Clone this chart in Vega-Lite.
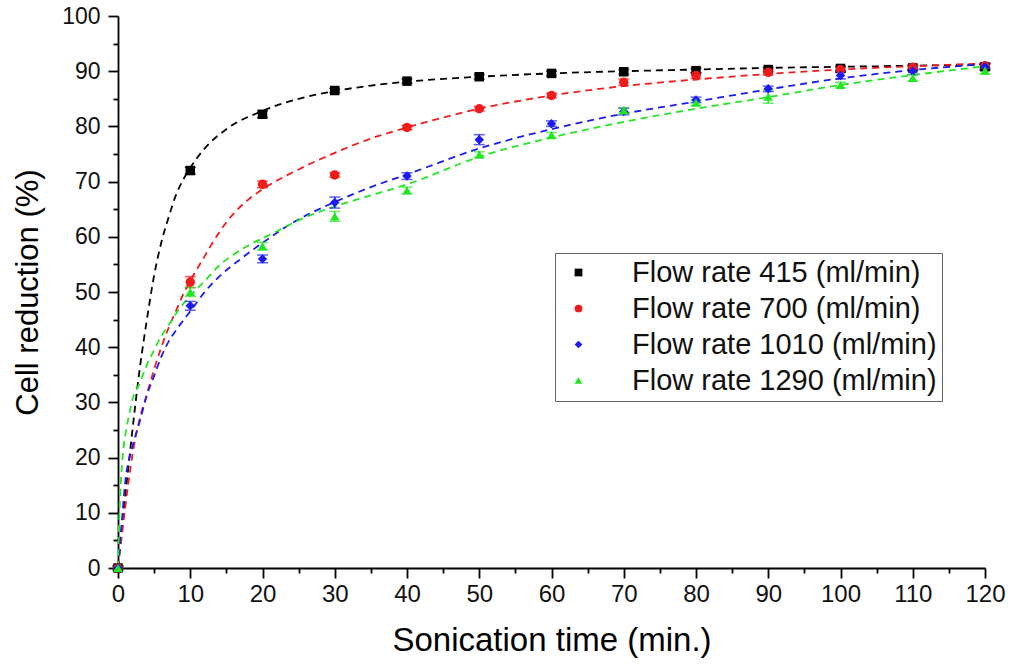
{
  "$schema": "https://vega.github.io/schema/vega-lite/v6.json",
  "width": 867,
  "height": 552,
  "autosize": "none",
  "padding": {"left": 118, "top": 16, "right": 24, "bottom": 96},
  "background": "white",
  "config": {
    "view": {"stroke": null},
    "font": "Liberation Sans",
    "axis": {
      "grid": false,
      "domainColor": "#000000",
      "domainWidth": 1.8,
      "tickColor": "#000000",
      "tickWidth": 1.8,
      "labelColor": "#111111",
      "labelFont": "Liberation Sans",
      "titleFont": "Liberation Sans",
      "titleFontWeight": "normal",
      "titleColor": "#000000"
    },
    "legend": {
      "labelFont": "Liberation Sans",
      "labelColor": "#111111",
      "orient": "none",
      "legendX": 437,
      "legendY": 237,
      "labelFontSize": 29,
      "symbolSize": 60,
      "symbolOpacity": 1,
      "rowPadding": 6,
      "padding": 5,
      "symbolOffset": 4,
      "labelOffset": 39,
      "strokeColor": "#666666",
      "labelLimit": 600,
      "symbolStrokeWidth": 0
    }
  },
  "datasets": {
    "pts": [
      {"s": "Flow rate 415 (ml/min)", "x": 0, "y": 0, "e": 0.3},
      {"s": "Flow rate 415 (ml/min)", "x": 10, "y": 72.0, "e": 0.6},
      {"s": "Flow rate 415 (ml/min)", "x": 20, "y": 82.2, "e": 0.6},
      {"s": "Flow rate 415 (ml/min)", "x": 30, "y": 86.5, "e": 0.4},
      {"s": "Flow rate 415 (ml/min)", "x": 40, "y": 88.2, "e": 0.4},
      {"s": "Flow rate 415 (ml/min)", "x": 50, "y": 89.0, "e": 0.4},
      {"s": "Flow rate 415 (ml/min)", "x": 60, "y": 89.6, "e": 0.4},
      {"s": "Flow rate 415 (ml/min)", "x": 70, "y": 89.9, "e": 0.4},
      {"s": "Flow rate 415 (ml/min)", "x": 80, "y": 90.1, "e": 0.4},
      {"s": "Flow rate 415 (ml/min)", "x": 90, "y": 90.3, "e": 0.4},
      {"s": "Flow rate 415 (ml/min)", "x": 100, "y": 90.5, "e": 0.4},
      {"s": "Flow rate 415 (ml/min)", "x": 110, "y": 90.6, "e": 0.4},
      {"s": "Flow rate 415 (ml/min)", "x": 120, "y": 90.8, "e": 0.5},
      {"s": "Flow rate 700 (ml/min)", "x": 0, "y": 0, "e": 0.3},
      {"s": "Flow rate 700 (ml/min)", "x": 10, "y": 51.8, "e": 1.0},
      {"s": "Flow rate 700 (ml/min)", "x": 20, "y": 69.5, "e": 0.6},
      {"s": "Flow rate 700 (ml/min)", "x": 30, "y": 71.2, "e": 0.4},
      {"s": "Flow rate 700 (ml/min)", "x": 40, "y": 79.8, "e": 0.4},
      {"s": "Flow rate 700 (ml/min)", "x": 50, "y": 83.2, "e": 0.4},
      {"s": "Flow rate 700 (ml/min)", "x": 60, "y": 85.6, "e": 0.4},
      {"s": "Flow rate 700 (ml/min)", "x": 70, "y": 88.0, "e": 0.6},
      {"s": "Flow rate 700 (ml/min)", "x": 80, "y": 89.2, "e": 0.5},
      {"s": "Flow rate 700 (ml/min)", "x": 90, "y": 89.8, "e": 0.5},
      {"s": "Flow rate 700 (ml/min)", "x": 100, "y": 90.3, "e": 0.4},
      {"s": "Flow rate 700 (ml/min)", "x": 110, "y": 90.7, "e": 0.4},
      {"s": "Flow rate 700 (ml/min)", "x": 120, "y": 91.0, "e": 0.4},
      {"s": "Flow rate 1010 (ml/min)", "x": 0, "y": 0, "e": 0.3},
      {"s": "Flow rate 1010 (ml/min)", "x": 10, "y": 47.5, "e": 0.8},
      {"s": "Flow rate 1010 (ml/min)", "x": 20, "y": 56.0, "e": 0.7},
      {"s": "Flow rate 1010 (ml/min)", "x": 30, "y": 66.2, "e": 1.0},
      {"s": "Flow rate 1010 (ml/min)", "x": 40, "y": 71.0, "e": 0.6},
      {"s": "Flow rate 1010 (ml/min)", "x": 50, "y": 77.6, "e": 0.9},
      {"s": "Flow rate 1010 (ml/min)", "x": 60, "y": 80.5, "e": 0.5},
      {"s": "Flow rate 1010 (ml/min)", "x": 70, "y": 82.7, "e": 0.6},
      {"s": "Flow rate 1010 (ml/min)", "x": 80, "y": 84.8, "e": 0.5},
      {"s": "Flow rate 1010 (ml/min)", "x": 90, "y": 86.8, "e": 0.5},
      {"s": "Flow rate 1010 (ml/min)", "x": 100, "y": 89.2, "e": 0.6},
      {"s": "Flow rate 1010 (ml/min)", "x": 110, "y": 90.0, "e": 0.6},
      {"s": "Flow rate 1010 (ml/min)", "x": 120, "y": 90.8, "e": 0.6},
      {"s": "Flow rate 1290 (ml/min)", "x": 0, "y": 0, "e": 0.3},
      {"s": "Flow rate 1290 (ml/min)", "x": 10, "y": 50.0, "e": 0.8},
      {"s": "Flow rate 1290 (ml/min)", "x": 20, "y": 58.3, "e": 0.7},
      {"s": "Flow rate 1290 (ml/min)", "x": 30, "y": 63.7, "e": 0.9},
      {"s": "Flow rate 1290 (ml/min)", "x": 40, "y": 68.4, "e": 0.6},
      {"s": "Flow rate 1290 (ml/min)", "x": 50, "y": 74.9, "e": 0.5},
      {"s": "Flow rate 1290 (ml/min)", "x": 60, "y": 78.4, "e": 0.5},
      {"s": "Flow rate 1290 (ml/min)", "x": 70, "y": 82.9, "e": 0.5},
      {"s": "Flow rate 1290 (ml/min)", "x": 80, "y": 84.3, "e": 0.5},
      {"s": "Flow rate 1290 (ml/min)", "x": 90, "y": 85.4, "e": 1.2},
      {"s": "Flow rate 1290 (ml/min)", "x": 100, "y": 87.5, "e": 0.5},
      {"s": "Flow rate 1290 (ml/min)", "x": 110, "y": 88.8, "e": 0.6},
      {"s": "Flow rate 1290 (ml/min)", "x": 120, "y": 90.1, "e": 0.6}
    ],
    "fit": [
      {"s": "Flow rate 415 (ml/min)", "x": 0, "y": 0},
      {"s": "Flow rate 415 (ml/min)", "x": 0.5, "y": 7},
      {"s": "Flow rate 415 (ml/min)", "x": 1, "y": 13},
      {"s": "Flow rate 415 (ml/min)", "x": 1.5, "y": 19},
      {"s": "Flow rate 415 (ml/min)", "x": 2, "y": 25},
      {"s": "Flow rate 415 (ml/min)", "x": 3, "y": 36},
      {"s": "Flow rate 415 (ml/min)", "x": 4, "y": 45},
      {"s": "Flow rate 415 (ml/min)", "x": 5, "y": 53},
      {"s": "Flow rate 415 (ml/min)", "x": 6, "y": 59},
      {"s": "Flow rate 415 (ml/min)", "x": 7, "y": 63.5},
      {"s": "Flow rate 415 (ml/min)", "x": 8, "y": 67.5},
      {"s": "Flow rate 415 (ml/min)", "x": 9, "y": 70.3},
      {"s": "Flow rate 415 (ml/min)", "x": 10, "y": 72.5},
      {"s": "Flow rate 415 (ml/min)", "x": 12, "y": 76},
      {"s": "Flow rate 415 (ml/min)", "x": 15, "y": 79.5},
      {"s": "Flow rate 415 (ml/min)", "x": 20, "y": 82.8},
      {"s": "Flow rate 415 (ml/min)", "x": 25, "y": 85},
      {"s": "Flow rate 415 (ml/min)", "x": 30, "y": 86.4},
      {"s": "Flow rate 415 (ml/min)", "x": 35, "y": 87.4},
      {"s": "Flow rate 415 (ml/min)", "x": 40, "y": 88.1},
      {"s": "Flow rate 415 (ml/min)", "x": 50, "y": 89},
      {"s": "Flow rate 415 (ml/min)", "x": 60, "y": 89.6},
      {"s": "Flow rate 415 (ml/min)", "x": 70, "y": 90},
      {"s": "Flow rate 415 (ml/min)", "x": 80, "y": 90.3},
      {"s": "Flow rate 415 (ml/min)", "x": 90, "y": 90.6},
      {"s": "Flow rate 415 (ml/min)", "x": 100, "y": 90.8},
      {"s": "Flow rate 415 (ml/min)", "x": 110, "y": 91},
      {"s": "Flow rate 415 (ml/min)", "x": 120, "y": 91.2},
      {"s": "Flow rate 700 (ml/min)", "x": 0, "y": 0},
      {"s": "Flow rate 700 (ml/min)", "x": 0.5, "y": 5.5},
      {"s": "Flow rate 700 (ml/min)", "x": 1, "y": 11},
      {"s": "Flow rate 700 (ml/min)", "x": 1.5, "y": 16},
      {"s": "Flow rate 700 (ml/min)", "x": 2, "y": 20.5},
      {"s": "Flow rate 700 (ml/min)", "x": 3, "y": 27},
      {"s": "Flow rate 700 (ml/min)", "x": 4, "y": 31.5},
      {"s": "Flow rate 700 (ml/min)", "x": 5, "y": 36},
      {"s": "Flow rate 700 (ml/min)", "x": 6, "y": 40},
      {"s": "Flow rate 700 (ml/min)", "x": 7, "y": 43.5},
      {"s": "Flow rate 700 (ml/min)", "x": 8, "y": 46.5},
      {"s": "Flow rate 700 (ml/min)", "x": 9, "y": 49.5},
      {"s": "Flow rate 700 (ml/min)", "x": 10, "y": 52},
      {"s": "Flow rate 700 (ml/min)", "x": 12, "y": 56.5},
      {"s": "Flow rate 700 (ml/min)", "x": 14, "y": 60.8},
      {"s": "Flow rate 700 (ml/min)", "x": 16, "y": 64.2},
      {"s": "Flow rate 700 (ml/min)", "x": 18, "y": 66.7},
      {"s": "Flow rate 700 (ml/min)", "x": 20, "y": 68.6},
      {"s": "Flow rate 700 (ml/min)", "x": 25, "y": 72.2},
      {"s": "Flow rate 700 (ml/min)", "x": 30, "y": 75.2},
      {"s": "Flow rate 700 (ml/min)", "x": 35, "y": 77.8},
      {"s": "Flow rate 700 (ml/min)", "x": 40, "y": 79.8},
      {"s": "Flow rate 700 (ml/min)", "x": 50, "y": 83.2},
      {"s": "Flow rate 700 (ml/min)", "x": 60, "y": 85.6},
      {"s": "Flow rate 700 (ml/min)", "x": 70, "y": 87.3},
      {"s": "Flow rate 700 (ml/min)", "x": 80, "y": 88.5},
      {"s": "Flow rate 700 (ml/min)", "x": 90, "y": 89.5},
      {"s": "Flow rate 700 (ml/min)", "x": 100, "y": 90.3},
      {"s": "Flow rate 700 (ml/min)", "x": 110, "y": 90.9},
      {"s": "Flow rate 700 (ml/min)", "x": 120, "y": 91.4},
      {"s": "Flow rate 1010 (ml/min)", "x": 0, "y": 0},
      {"s": "Flow rate 1010 (ml/min)", "x": 0.5, "y": 8},
      {"s": "Flow rate 1010 (ml/min)", "x": 1, "y": 15.5},
      {"s": "Flow rate 1010 (ml/min)", "x": 2, "y": 22},
      {"s": "Flow rate 1010 (ml/min)", "x": 3, "y": 26.5},
      {"s": "Flow rate 1010 (ml/min)", "x": 4, "y": 31.3},
      {"s": "Flow rate 1010 (ml/min)", "x": 5, "y": 34.8},
      {"s": "Flow rate 1010 (ml/min)", "x": 6, "y": 38.3},
      {"s": "Flow rate 1010 (ml/min)", "x": 7, "y": 41},
      {"s": "Flow rate 1010 (ml/min)", "x": 8, "y": 43},
      {"s": "Flow rate 1010 (ml/min)", "x": 9, "y": 44.8},
      {"s": "Flow rate 1010 (ml/min)", "x": 10, "y": 46.5},
      {"s": "Flow rate 1010 (ml/min)", "x": 12, "y": 50},
      {"s": "Flow rate 1010 (ml/min)", "x": 14, "y": 52.8},
      {"s": "Flow rate 1010 (ml/min)", "x": 17, "y": 56},
      {"s": "Flow rate 1010 (ml/min)", "x": 20, "y": 58.9},
      {"s": "Flow rate 1010 (ml/min)", "x": 24, "y": 62.4},
      {"s": "Flow rate 1010 (ml/min)", "x": 30, "y": 66.3},
      {"s": "Flow rate 1010 (ml/min)", "x": 35, "y": 69},
      {"s": "Flow rate 1010 (ml/min)", "x": 40, "y": 71.3},
      {"s": "Flow rate 1010 (ml/min)", "x": 50, "y": 76},
      {"s": "Flow rate 1010 (ml/min)", "x": 60, "y": 79.5},
      {"s": "Flow rate 1010 (ml/min)", "x": 70, "y": 82.3},
      {"s": "Flow rate 1010 (ml/min)", "x": 80, "y": 84.5},
      {"s": "Flow rate 1010 (ml/min)", "x": 90, "y": 86.7},
      {"s": "Flow rate 1010 (ml/min)", "x": 100, "y": 88.7},
      {"s": "Flow rate 1010 (ml/min)", "x": 110, "y": 90.2},
      {"s": "Flow rate 1010 (ml/min)", "x": 120, "y": 91.3},
      {"s": "Flow rate 1290 (ml/min)", "x": 0, "y": 0},
      {"s": "Flow rate 1290 (ml/min)", "x": 0.1, "y": 6},
      {"s": "Flow rate 1290 (ml/min)", "x": 0.2, "y": 10},
      {"s": "Flow rate 1290 (ml/min)", "x": 0.4, "y": 15.6},
      {"s": "Flow rate 1290 (ml/min)", "x": 0.7, "y": 21},
      {"s": "Flow rate 1290 (ml/min)", "x": 1, "y": 24},
      {"s": "Flow rate 1290 (ml/min)", "x": 1.5, "y": 27.5},
      {"s": "Flow rate 1290 (ml/min)", "x": 2, "y": 30.5},
      {"s": "Flow rate 1290 (ml/min)", "x": 3, "y": 33.5},
      {"s": "Flow rate 1290 (ml/min)", "x": 4, "y": 36.8},
      {"s": "Flow rate 1290 (ml/min)", "x": 5, "y": 39.5},
      {"s": "Flow rate 1290 (ml/min)", "x": 6, "y": 42},
      {"s": "Flow rate 1290 (ml/min)", "x": 7, "y": 44},
      {"s": "Flow rate 1290 (ml/min)", "x": 8, "y": 46},
      {"s": "Flow rate 1290 (ml/min)", "x": 9, "y": 47.8},
      {"s": "Flow rate 1290 (ml/min)", "x": 10, "y": 49.3},
      {"s": "Flow rate 1290 (ml/min)", "x": 12, "y": 52},
      {"s": "Flow rate 1290 (ml/min)", "x": 14, "y": 54.8},
      {"s": "Flow rate 1290 (ml/min)", "x": 16, "y": 56.8},
      {"s": "Flow rate 1290 (ml/min)", "x": 18, "y": 58.4},
      {"s": "Flow rate 1290 (ml/min)", "x": 22, "y": 61},
      {"s": "Flow rate 1290 (ml/min)", "x": 25, "y": 63},
      {"s": "Flow rate 1290 (ml/min)", "x": 30, "y": 65.5},
      {"s": "Flow rate 1290 (ml/min)", "x": 35, "y": 67.5},
      {"s": "Flow rate 1290 (ml/min)", "x": 40, "y": 69.5},
      {"s": "Flow rate 1290 (ml/min)", "x": 50, "y": 74.5},
      {"s": "Flow rate 1290 (ml/min)", "x": 60, "y": 78},
      {"s": "Flow rate 1290 (ml/min)", "x": 70, "y": 80.8},
      {"s": "Flow rate 1290 (ml/min)", "x": 80, "y": 83.2},
      {"s": "Flow rate 1290 (ml/min)", "x": 90, "y": 85.3},
      {"s": "Flow rate 1290 (ml/min)", "x": 100, "y": 87.5},
      {"s": "Flow rate 1290 (ml/min)", "x": 110, "y": 89.3},
      {"s": "Flow rate 1290 (ml/min)", "x": 120, "y": 90.9}
    ]
  },
  "encoding": {
    "x": {
      "field": "x",
      "type": "quantitative",
      "scale": {"domain": [0, 120], "nice": false, "zero": false},
      "axis": {
        "title": "Sonication time (min.)",
        "titleFontSize": 33,
        "titlePadding": 18,
        "labelFontSize": 24,
        "labelPadding": 4,
        "values": [0,5,10,15,20,25,30,35,40,45,50,55,60,65,70,75,80,85,90,95,100,105,110,115,120],
        "labelExpr": "datum.value % 10 === 0 ? datum.label : ''",
        "labelFlush": false,
        "labelOverlap": false,
        "tickSize": {"condition": {"test": "datum.value % 10 === 0", "value": 10}, "value": 5}
      }
    },
    "y": {
      "field": "y",
      "type": "quantitative",
      "scale": {"domain": [0, 100], "nice": false},
      "axis": {
        "title": "Cell reduction (%)",
        "titleFontSize": 31,
        "titlePadding": 17,
        "labelFontSize": 23,
        "labelPadding": 8,
        "values": [0,5,10,15,20,25,30,35,40,45,50,55,60,65,70,75,80,85,90,95,100],
        "labelExpr": "datum.value % 10 === 0 ? datum.label : ''",
        "labelFlush": false,
        "labelOverlap": false,
        "tickSize": {"condition": {"test": "datum.value % 10 === 0", "value": 10}, "value": 5}
      }
    },
    "color": {
      "field": "s",
      "type": "nominal",
      "title": null,
      "scale": {
        "domain": ["Flow rate 415 (ml/min)", "Flow rate 700 (ml/min)", "Flow rate 1010 (ml/min)", "Flow rate 1290 (ml/min)"],
        "range": ["#000000", "#f01c1c", "#1c1cf0", "#22e622"]
      }
    }
  },
  "layer": [
    {
      "data": {"name": "fit"},
      "mark": {"type": "line", "strokeDash": [7, 5], "strokeWidth": 1.8, "interpolate": "monotone"},
      "encoding": {}
    },
    {
      "data": {"name": "pts"},
      "mark": {"type": "errorbar", "ticks": {"size": 11}, "thickness": 1.5},
      "encoding": {
        "yError": {"field": "e"}
      }
    },
    {
      "data": {"name": "pts"},
      "mark": {"type": "point", "filled": true, "size": 90, "opacity": 1, "strokeWidth": 0},
      "encoding": {
        "shape": {
          "field": "s",
          "type": "nominal",
          "title": null,
          "scale": {
            "domain": ["Flow rate 415 (ml/min)", "Flow rate 700 (ml/min)", "Flow rate 1010 (ml/min)", "Flow rate 1290 (ml/min)"],
            "range": ["square", "circle", "diamond", "triangle-up"]
          }
        }
      }
    }
  ]
}
